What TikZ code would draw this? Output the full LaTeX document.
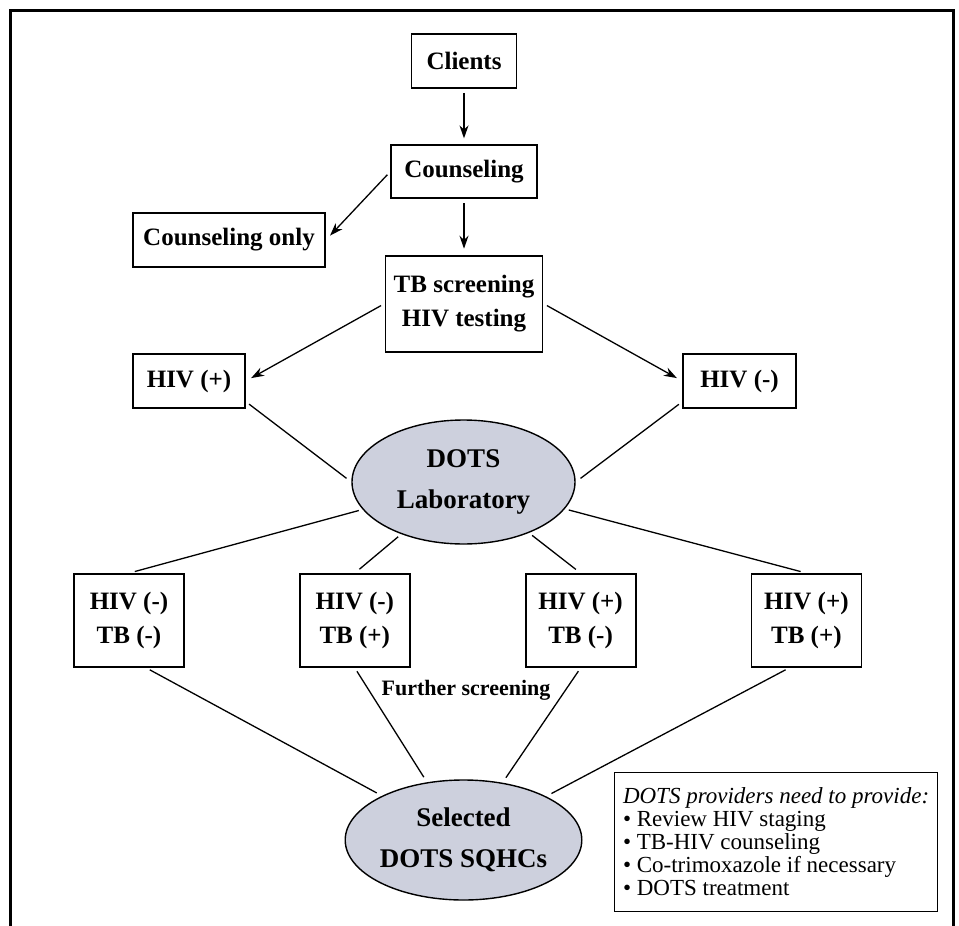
\documentclass[tikz,border=0pt]{standalone}
\usepackage{fontspec}
\setmainfont{Liberation Serif}
\usetikzlibrary{shapes.geometric,chains,positioning,arrows.meta}
\definecolor{labgray}{RGB}{205,208,221}

\begin{document}
\begin{tikzpicture}[x=0.5pt, y=-0.5pt, >={Stealth[length=6.5pt,width=4.5pt]},
  box/.style={rectangle, draw, line width=0.9pt, inner sep=0pt, align=center, font=\fontsize{12.5}{17}\selectfont\bfseries},
  oval/.style={ellipse, draw, line width=0.7pt, fill=labgray, inner sep=0pt, align=center, font=\fontsize{13.5}{20.5}\selectfont\bfseries},
  link/.style={line width=0.65pt, shorten <=2pt, shorten >=3pt},
  arrow/.style={link, ->, line width=0.8pt}]
  \useasboundingbox (0,0) rectangle (959,926);
  \draw[line width=1.5pt] (10,926) -- (10,10) -- (953,10) -- (953,926);
  % main column
  \begin{scope}[start chain=going below, node distance=27.75pt]
    \node[box, on chain, minimum width=52.5pt, minimum height=27pt] (cl) at (464,61) {Clients};
    \node[box, on chain, minimum width=73pt, minimum height=26.5pt] (couns) {Counseling};
    \node[box, on chain, minimum width=78.5pt, minimum height=48pt] (tb) {TB screening\\HIV testing};
  \end{scope}
  \node[box, minimum width=96pt, minimum height=27pt] (only) at (229,240) {Counseling only};
  \node[box, minimum width=56pt, minimum height=27pt] (hivp) at (189,381) {HIV (+)};
  \node[box, minimum width=56.5pt, minimum height=27pt] (hivm) at (739.5,381) {HIV (-)};
  \node[oval, minimum width=111.5pt, minimum height=62pt] (lab) at (463.5,482) {DOTS\\Laboratory};
  % results
  \begin{scope}[start chain=going right, node distance=57pt]
    \node[box, on chain, minimum width=55pt, minimum height=46.5pt] (r1) at (129,620.5) {HIV (-)\\TB (-)};
    \node[box, on chain, minimum width=55pt, minimum height=46.5pt] (r2) {HIV (-)\\TB (+)};
    \node[box, on chain, minimum width=55pt, minimum height=46.5pt] (r3) {HIV (+)\\TB (-)};
    \node[box, on chain, minimum width=55pt, minimum height=46.5pt] (r4) {HIV (+)\\TB (+)};
  \end{scope}
  \node[font=\fontsize{11}{13}\selectfont\bfseries] (fs) at (466,690) {Further screening};
  \node[oval, minimum width=110.5pt, minimum height=60pt] (sel) at (463.5,840) {Selected\\DOTS SQHCs};
  \node[draw, line width=0.6pt, anchor=north west, minimum width=161.5pt, minimum height=69.5pt, inner sep=2pt, align=left, font=\fontsize{11.5}{11.5}\selectfont] (note) at (614,772)
    {\textit{DOTS providers need to provide:}\\
     \textbullet\ Review HIV staging\\
     \textbullet\ TB-HIV counseling\\
     \textbullet\ Co-trimoxazole if necessary\\
     \textbullet\ DOTS treatment};

  \draw[arrow] (cl) -- (couns);
  \draw[arrow] (couns) -- (tb);
  \draw[arrow, line width=0.65pt] (couns.west) -- (only.east);
  \draw[arrow, line width=0.65pt] (tb.west) -- (hivp.east);
  \draw[arrow, line width=0.65pt] (tb.east) -- (hivm.west);
  \draw[link] (hivp.-20) -- (lab.west);
  \draw[link] (hivm.200) -- (lab.east);
  \foreach \r in {r1,r2,r3,r4}
    \draw[link] (lab) -- (\r.north);
  \draw[link] (r1.-70) -- (sel);
  \draw[link] (r2.south) -- (sel);
  \draw[link] (r3.south) -- (sel);
  \draw[link] (r4.-110) -- (sel);
\end{tikzpicture}
\end{document}
